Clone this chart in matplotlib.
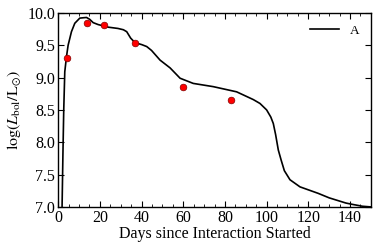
import matplotlib
matplotlib.use("Agg")
import matplotlib.pyplot as plt
from matplotlib.ticker import MultipleLocator

plt.rcParams['font.family'] = ['Liberation Serif', 'DejaVu Serif']
plt.rcParams['mathtext.fontset'] = 'stix'

# model light curve (days, log L)
days = [1.9, 2.3, 2.7, 3.2, 4.0, 4.8, 6.4, 8.0, 10.4, 13.6, 15.2, 16.8, 19.2,
        24.0, 28.7, 31.3, 32.9, 34.8, 36.9, 40.1, 42.5, 44.8, 48.9, 53.7, 58.5,
        64.8, 74.4, 85.6, 93.6, 96.8, 100.0, 102.0, 103.2, 104.3, 105.6, 107.0,
        108.5, 111.2, 116.0, 124.7, 130.0, 138.0, 141.0, 146.0, 150.0]
logL = [7.0, 7.8, 8.5, 9.09, 9.32, 9.50, 9.71, 9.84, 9.92, 9.93, 9.90, 9.85, 9.82,
        9.78, 9.76, 9.74, 9.71, 9.61, 9.54, 9.51, 9.48, 9.42, 9.27, 9.15, 8.99,
        8.91, 8.86, 8.78, 8.66, 8.60, 8.50, 8.39, 8.29, 8.12, 7.88, 7.72,
        7.56, 7.42, 7.31, 7.21, 7.14, 7.06, 7.04, 7.01, 7.0]

# observed points
obs_days = [4.2, 13.7, 22.2, 36.9, 59.9, 82.9]
obs_logL = [9.31, 9.85, 9.81, 9.54, 8.85, 8.65]

fig = plt.figure(figsize=(3.9, 2.44), dpi=100)
ax = fig.add_axes([0.149, 0.152, 0.802, 0.795])

ax.plot(days, logL, color="k", lw=1.2, label="A")
ax.plot(obs_days, obs_logL, "o", color="#ff0000", mec="#800000", mew=0.5, ms=4.8)

ax.set_xlim(0, 150)
ax.set_ylim(7.0, 10.0)
ax.xaxis.set_major_locator(MultipleLocator(20))
ax.xaxis.set_minor_locator(MultipleLocator(5))
ax.yaxis.set_major_locator(MultipleLocator(0.5))
ax.tick_params(which="both", direction="in", top=True, right=True, labelsize=11.5, pad=2)
ax.tick_params(which="major", length=4)
ax.tick_params(which="minor", length=2)
for s in ax.spines.values():
    s.set_linewidth(1.0)

ax.set_xlabel("Days since Interaction Started", fontsize=11.5, labelpad=0)
ax.set_ylabel(r"$\log(L_{\rm bol}/{\rm L}_{\odot})$", fontsize=11.5, labelpad=3)
ax.legend(loc="upper right", frameon=False, fontsize=9.5, handlelength=2.2)

fig.savefig("out.png", dpi=100)
